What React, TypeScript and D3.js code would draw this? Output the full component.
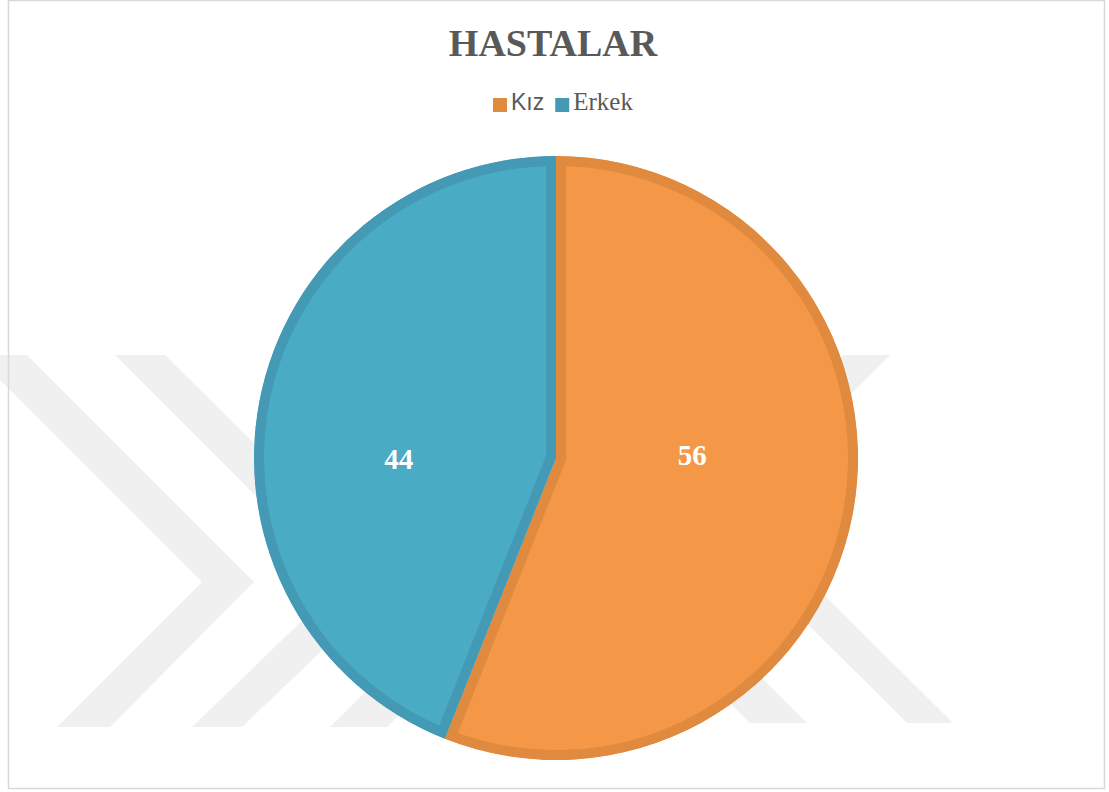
import React, { useEffect, useRef } from "react";
import * as d3 from "d3";

const title = "HASTALAR";
const categories = ["Kız", "Erkek"];
const values = [56, 44];
const fills = ["#F49847", "#4AABC5"];
const borders = ["#E08A3F", "#4499B4"];

const WIDTH = 1109;
const HEIGHT = 792;

// faint watermark bands behind the chart (background decoration)
const watermark: Array<Array<[number, number]>> = [
  [[-25, 355], [27, 355], [254, 582], [110, 727], [57, 727], [202, 582]],
  [[115, 355], [165, 355], [394, 582], [242, 727], [192, 727], [342, 582]],
  [[330, 727], [387, 727], [560, 554], [503, 554]],
  [[750, 723], [807, 723], [640, 556], [583, 556]],
  [[843, 355], [890, 355], [737, 508], [953, 723], [907, 723], [714, 531], [691, 507]],
];

const App: React.FC = () => {
  const svgRef = useRef<SVGSVGElement>(null);

  useEffect(() => {
    if (!svgRef.current) return;
    const svg = d3.select(svgRef.current);
    svg.selectAll("*").remove();

    svg
      .append("rect")
      .attr("width", WIDTH)
      .attr("height", HEIGHT)
      .attr("fill", "#fff");

    svg
      .append("g")
      .selectAll("polygon")
      .data(watermark)
      .enter()
      .append("polygon")
      .attr("points", (d) => d.map((p) => p.join(",")).join(" "))
      .attr("fill", "#f0f0f0");

    svg
      .append("rect")
      .attr("x", 8.5)
      .attr("y", 0.5)
      .attr("width", 1096)
      .attr("height", 788)
      .attr("fill", "none")
      .attr("stroke", "#d9d9d9")
      .attr("stroke-width", 1.5);

    svg
      .append("text")
      .attr("x", 553)
      .attr("y", 56)
      .attr("text-anchor", "middle")
      .style("font-family", "'Liberation Serif', 'Times New Roman', serif")
      .style("font-weight", "bold")
      .style("font-size", "38px")
      .style("fill", "#595959")
      .text(title);

    // legend
    const legendFonts = ["'Liberation Sans', Arial, sans-serif", "'Liberation Serif', 'Times New Roman', serif"];
    const legendSizes = [23, 25];
    const legend = svg.append("g").attr("transform", "translate(493,98)");
    let lx = 0;
    categories.forEach((c, i) => {
      legend
        .append("rect")
        .attr("x", lx)
        .attr("y", 0)
        .attr("width", 14)
        .attr("height", 14)
        .attr("fill", borders[i]);
      const t = legend
        .append("text")
        .attr("x", lx + 18)
        .attr("y", 12)
        .style("font-family", legendFonts[i])
        .style("font-size", `${legendSizes[i]}px`)
        .style("fill", "#595959")
        .text(c);
      const w = (t.node() as SVGTextElement).getComputedTextLength();
      lx += 18 + w + 11;
    });

    // pie
    const cx = 556;
    const cy = 458;
    const r = 302;
    const pie = d3.pie<number>().sort(null).value((d) => d);
    const arcs = pie(values);
    const arc = d3.arc<d3.PieArcDatum<number>>().innerRadius(0).outerRadius(r);

    const g = svg.append("g").attr("transform", `translate(${cx},${cy})`);
    const defs = svg.append("defs");
    arcs.forEach((a, i) => {
      defs
        .append("clipPath")
        .attr("id", `slice-clip-${i}`)
        .append("path")
        .attr("d", arc(a) || "");
    });

    g.selectAll(".slice")
      .data(arcs)
      .enter()
      .append("path")
      .attr("class", "slice")
      .attr("d", (d) => arc(d) || "")
      .attr("fill", (_d, i) => fills[i])
      .attr("stroke", (_d, i) => borders[i])
      .attr("stroke-width", 20)
      .attr("stroke-linejoin", "miter")
      .attr("clip-path", (_d, i) => `url(#slice-clip-${i})`);

    // Excel "best fit" labels sit a little inward of the centroid
    g.selectAll(".label")
      .data(arcs)
      .enter()
      .append("text")
      .attr("class", "label")
      .attr("x", (d) => arc.centroid(d)[0] + (d.index === 0 ? -12 : -9))
      .attr("y", (d) => (d.index === 0 ? 7 : 11))
      .attr("text-anchor", "middle")
      .style("font-family", "'Liberation Serif', 'Times New Roman', serif")
      .style("font-weight", "bold")
      .style("font-size", "29px")
      .style("fill", "#fff")
      .text((d) => d.data);
  }, []);

  return (
    <svg
      ref={svgRef}
      width={WIDTH}
      height={HEIGHT}
      style={{ position: "absolute", left: 0, top: 0 }}
    />
  );
};

export default App;
